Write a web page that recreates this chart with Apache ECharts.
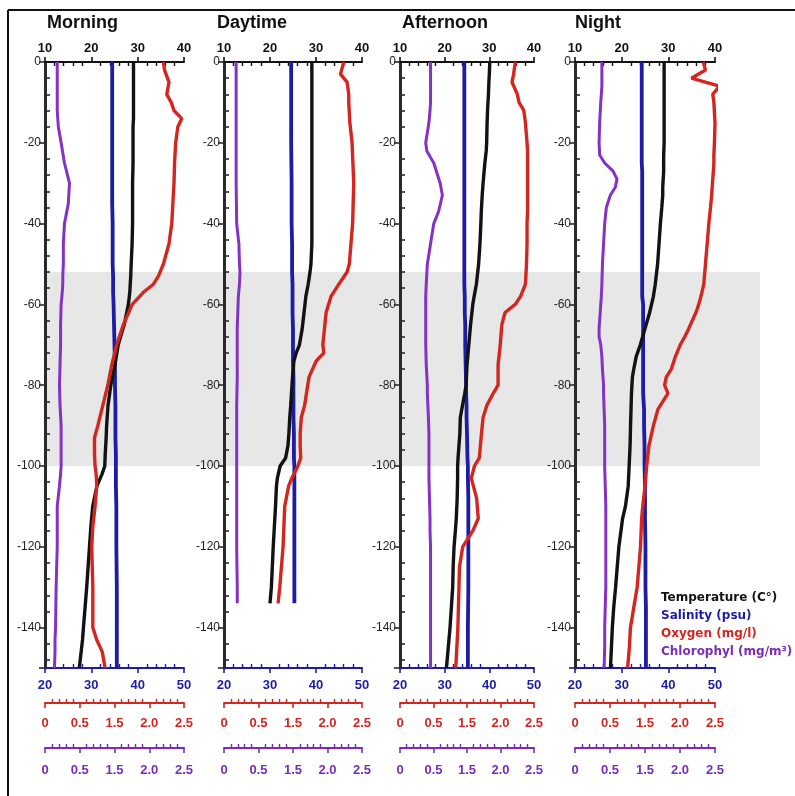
<!DOCTYPE html>
<html><head><meta charset="utf-8">
<script src="https://cdn.jsdelivr.net/npm/echarts/dist/echarts.min.js"></script>
<style>html,body{margin:0;padding:0;background:#fff}#c{width:795px;height:796px}</style>
</head><body><div id="c"></div>
<script>
// ---------- data (depth in metres below surface; axis shows it negative) ----------
const depthTickLabels = ['0','-20','-40','-60','-80','-100','-120','-140'];
const tempTickLabels = ['10','20','30','40'];
const salTickLabels = ['20','30','40','50'];
const oxyTickLabels = ['0','0.5','1.5','2.0','2.5'];
const chlTickLabels = ['0','0.5','1.5','2.0','2.5'];
const thermoclineTop = 52, thermoclineBottom = 100;
const thermoclineLabel = 'Termocline';
const panelTitles = ['Morning','Daytime','Afternoon','Night'];
const seriesNames = ['Temperature (C°)','Salinity (psu)','Oxygen (mg/l)','Chlorophyl (mg/m³)'];

const morningDepth = [0,2,5,8,10,12,14,16,20,25,30,35,40,45,50,53,55,57,60,65,70,75,80,85,90,93,97,100,102,105,110,115,120,130,140,143,146,150];
const morningTemp = [29.1,29.1,29.1,29.1,29.1,29.1,29.1,29.0,29.0,29.0,28.9,28.9,28.9,28.8,28.6,28.5,28.4,28.3,28.0,27.1,25.8,25.1,24.2,23.6,23.3,23.2,23.0,22.9,22.3,21.2,20.3,19.9,19.6,19.0,18.3,18.1,17.8,17.4];
const morningSal = [34.5,34.5,34.5,34.5,34.5,34.5,34.5,34.5,34.5,34.5,34.5,34.5,34.6,34.6,34.6,34.7,34.7,34.7,34.8,34.9,35.0,35.1,35.1,35.2,35.2,35.2,35.3,35.3,35.3,35.3,35.4,35.4,35.4,35.5,35.5,35.5,35.5,35.5];
const morningOxy = [2.13,2.15,2.23,2.19,2.27,2.32,2.46,2.39,2.35,2.33,2.32,2.30,2.28,2.23,2.13,2.04,1.95,1.77,1.57,1.41,1.29,1.20,1.13,1.04,0.95,0.89,0.89,0.90,0.92,0.93,0.90,0.86,0.84,0.86,0.86,0.93,1.03,1.08];
const morningChl = [0.22,0.22,0.22,0.22,0.22,0.22,0.23,0.24,0.29,0.35,0.44,0.42,0.35,0.33,0.33,0.32,0.32,0.31,0.29,0.28,0.28,0.27,0.26,0.27,0.29,0.29,0.29,0.29,0.28,0.26,0.22,0.22,0.22,0.20,0.19,0.18,0.18,0.17];

const daytimeDepth = [0,3,5,8,10,15,20,30,40,45,50,52,55,58,62,66,70,72,74,78,85,88,92,95,98,100,103,105,110,120,130,134];
const daytimeTemp = [29.1,29.1,29.1,29.1,29.1,29.1,29.1,29.1,29.1,29.1,28.9,28.7,28.3,27.8,27.4,27.0,26.4,25.7,25.2,24.9,24.5,24.3,24.1,23.9,23.4,22.2,21.6,21.4,21.2,20.7,20.3,20.0];
const daytimeSal = [34.6,34.6,34.6,34.6,34.6,34.6,34.6,34.7,34.7,34.8,34.8,34.8,34.9,34.9,34.9,35.0,35.0,35.0,35.0,35.1,35.1,35.1,35.2,35.2,35.2,35.3,35.3,35.3,35.3,35.3,35.3,35.3];
const daytimeOxy = [2.17,2.11,2.23,2.26,2.26,2.28,2.32,2.35,2.33,2.30,2.27,2.23,2.08,1.94,1.85,1.82,1.79,1.81,1.67,1.54,1.46,1.40,1.38,1.38,1.39,1.34,1.23,1.17,1.10,1.07,1.01,0.98];
const daytimeChl = [0.22,0.22,0.22,0.22,0.22,0.22,0.22,0.22,0.23,0.27,0.28,0.29,0.28,0.26,0.25,0.24,0.24,0.24,0.24,0.24,0.23,0.23,0.23,0.23,0.23,0.23,0.23,0.23,0.23,0.23,0.24,0.24];

const afternoonDepth = [0,3,5,8,10,12,15,20,22,25,30,33,37,40,45,50,55,58,60,62,65,70,75,80,82,85,88,92,98,100,103,108,113,116,120,125,130,140,150];
const afternoonTemp = [30.1,30.0,29.9,29.8,29.7,29.6,29.5,29.4,29.3,29.0,28.6,28.4,28.2,28.1,27.9,27.6,27.1,26.6,26.3,26.1,25.8,25.4,25.0,24.8,24.5,24.0,23.5,23.4,23.0,22.9,22.9,22.8,22.6,22.4,22.1,21.9,21.8,21.2,20.4];
const afternoonSal = [34.4,34.4,34.4,34.4,34.4,34.4,34.4,34.4,34.4,34.4,34.4,34.4,34.4,34.4,34.4,34.4,34.4,34.5,34.5,34.5,34.6,34.6,34.7,34.8,34.8,34.9,34.9,35.0,35.1,35.2,35.2,35.3,35.3,35.3,35.3,35.3,35.3,35.2,35.2];
const afternoonOxy = [2.15,2.12,2.09,2.19,2.22,2.31,2.34,2.37,2.38,2.38,2.38,2.38,2.38,2.37,2.37,2.36,2.34,2.25,2.15,1.96,1.90,1.87,1.83,1.83,1.74,1.62,1.55,1.52,1.48,1.39,1.33,1.43,1.46,1.36,1.17,1.11,1.10,1.08,1.04];
const afternoonChl = [0.57,0.57,0.57,0.57,0.57,0.56,0.54,0.48,0.50,0.63,0.75,0.79,0.72,0.63,0.57,0.51,0.49,0.48,0.48,0.48,0.48,0.48,0.49,0.51,0.51,0.52,0.53,0.54,0.54,0.54,0.54,0.55,0.56,0.56,0.57,0.57,0.57,0.57,0.57];

const nightDepth = [0,2,4,6,8,10,15,20,23,25,27,29,31,33,36,40,45,50,55,58,60,62,66,68,70,73,76,78,80,82,86,90,95,100,105,110,113,120,130,135,140,145,150];
const nightTemp = [29.1,29.1,29.1,29.1,29.1,29.1,29.1,29.1,29.0,29.0,29.0,28.9,28.8,28.8,28.6,28.3,28.0,27.7,27.2,26.8,26.4,26.0,25.0,24.5,24.0,23.1,22.6,22.3,22.2,22.1,22.0,21.9,21.8,21.6,21.4,20.8,20.2,19.4,18.7,18.3,18.0,17.8,17.6];
const nightSal = [34.3,34.3,34.3,34.3,34.3,34.3,34.3,34.3,34.3,34.3,34.4,34.4,34.4,34.4,34.4,34.4,34.4,34.4,34.4,34.4,34.6,34.6,34.6,34.6,34.6,34.6,34.6,34.6,34.6,34.6,34.8,34.8,34.9,34.9,35.0,35.0,35.0,35.1,35.1,35.2,35.2,35.2,35.2];
const nightOxy = [2.29,2.33,2.08,2.58,2.46,2.48,2.50,2.49,2.48,2.48,2.47,2.46,2.45,2.44,2.42,2.39,2.36,2.33,2.30,2.25,2.21,2.16,2.03,1.96,1.88,1.79,1.72,1.63,1.60,1.66,1.48,1.40,1.32,1.28,1.25,1.21,1.19,1.17,1.11,1.05,0.99,0.97,0.94];
const nightChl = [0.48,0.48,0.48,0.48,0.47,0.46,0.44,0.43,0.44,0.53,0.68,0.75,0.72,0.63,0.56,0.53,0.51,0.49,0.48,0.47,0.46,0.45,0.43,0.43,0.46,0.48,0.49,0.50,0.51,0.51,0.52,0.53,0.53,0.53,0.54,0.55,0.55,0.55,0.55,0.54,0.53,0.53,0.52];

// ---------- layout / style ----------
const FONT = '"Liberation Sans", Arial, sans-serif';
const COL = {temp:'#121212', sal:'#1c1ca6', oxy:'#d4261f', chl:'#8431c6', chlAxis:'#7a2cb8', yaxis:'#2a2a2a'};
const panels = [
  {left:45,  width:139, titleX:47,  depth:morningDepth,   temp:morningTemp,   sal:morningSal,   oxy:morningOxy,   chl:morningChl},
  {left:224, width:138, titleX:217, depth:daytimeDepth,   temp:daytimeTemp,   sal:daytimeSal,   oxy:daytimeOxy,   chl:daytimeChl},
  {left:400, width:134, titleX:402, depth:afternoonDepth, temp:afternoonTemp, sal:afternoonSal, oxy:afternoonOxy, chl:afternoonChl},
  {left:575, width:140, titleX:575, depth:nightDepth,     temp:nightTemp,     sal:nightSal,     oxy:nightOxy,     chl:nightChl}
];
const TOP = 62, BOTTOM = 128;

function labelFrom(arr, step, min){
  return function(v){ const k = Math.round((v-min)/step); return (Math.abs((v-min)/step - k) < 1e-6 && arr[k] !== undefined) ? arr[k] : ''; };
}
function xAxisDef(g, pos, offset, min, max, interval, color, labels, margin, size, bold){
  return {
    gridIndex:g, type:'value', position:pos, offset:offset, min:min, max:max, interval:interval, z:4,
    axisLine:{show:true, onZero:false, lineStyle:{color:color, width:2}},
    axisTick:{show:true, length:5, lineStyle:{color:color, width:1.6}},
    minorTick:{show:true, splitNumber:5, length:-4, lineStyle:{color:color, width:1.4}},
    splitLine:{show:false}, minorSplitLine:{show:false},
    axisLabel:{color:color, fontSize:size, fontWeight:bold?'bold':'normal', fontFamily:FONT, margin:margin,
      showMinLabel:true, showMaxLabel:true, hideOverlap:false, formatter:labelFrom(labels, interval, min)}
  };
}

const grid = [{left:46, right:35, top:TOP, bottom:BOTTOM}];
const xAxis = [{gridIndex:0, type:'value', min:0, max:1, show:false}];
const yAxis = [{gridIndex:0, type:'value', min:0, max:150, inverse:true, show:false}];
const series = [{
  type:'line', xAxisIndex:0, yAxisIndex:0, data:[[0,0]], symbol:'none', silent:true, z:0,
  lineStyle:{opacity:0},
  markArea:{silent:true, itemStyle:{color:'#e7e7e7'}, label:{show:false},
    data:[[{yAxis:thermoclineTop},{yAxis:thermoclineBottom}]]}
}];

panels.forEach(function(p, i){
  const g = i + 1;
  grid.push({left:p.left, width:p.width, top:TOP, bottom:BOTTOM});
  const base = xAxis.length;
  xAxis.push(xAxisDef(g,'top',0,10,40,10,COL.temp,tempTickLabels,7,13,true));
  xAxis.push(xAxisDef(g,'bottom',0,20,50,10,COL.sal,salTickLabels,11,13,true));
  xAxis.push(xAxisDef(g,'bottom',35,0,2.5,0.625,COL.oxy,oxyTickLabels,14,13,true));
  xAxis.push(xAxisDef(g,'bottom',80,0,2.5,0.625,COL.chlAxis,chlTickLabels,16,13,true));
  yAxis.push({
    gridIndex:g, type:'value', min:0, max:150, interval:20, inverse:true, z:4,
    axisLine:{show:true, onZero:false, lineStyle:{color:COL.yaxis, width:3}},
    axisTick:{show:true, length:6, lineStyle:{color:COL.yaxis, width:1.6}},
    minorTick:{show:true, splitNumber:5, length:-5, lineStyle:{color:COL.yaxis, width:1.6}},
    splitLine:{show:false}, minorSplitLine:{show:false},
    axisLabel:{color:'#222', fontSize:12, fontFamily:FONT, margin:4, showMaxLabel:false,
      formatter:labelFrom(depthTickLabels, 20, 0)}
  });
  const yi = g;
  function line(name, xi, vals, color, w){
    return {name:name, type:'line', xAxisIndex:xi, yAxisIndex:yi, symbol:'none', clip:false, z:5,
      data:vals.map(function(v,k){ return [v, p.depth[k]]; }),
      lineStyle:{color:color, width:w}, itemStyle:{color:color}, emphasis:{disabled:true}, animation:false};
  }
  series.push(line(seriesNames[3], base+3, p.chl, COL.chl, 3));
  series.push(line(seriesNames[1], base+1, p.sal, COL.sal, 3.8));
  series.push(line(seriesNames[0], base+0, p.temp, COL.temp, 3.4));
  series.push(line(seriesNames[2], base+2, p.oxy, COL.oxy, 3.4));
});

const chart = echarts.init(document.getElementById('c'), null, {renderer:'canvas'});
chart.setOption({
  animation:false,
  backgroundColor:'#ffffff',
  title: panelTitles.map(function(t,i){ return {text:t, left:panels[i].titleX, top:14, padding:0,
    textStyle:{fontSize:18, fontWeight:'bold', color:'#111', fontFamily:FONT}}; }),
  legend:{orient:'vertical', left:651, top:586, itemGap:4, itemWidth:0, itemHeight:14, icon:'rect', selectedMode:false,
    textStyle:{fontSize:12, fontWeight:'bold', fontFamily:'"DejaVu Sans", sans-serif'},
    data:[
      {name:seriesNames[0], textStyle:{color:COL.temp}},
      {name:seriesNames[1], textStyle:{color:COL.sal}},
      {name:seriesNames[2], textStyle:{color:COL.oxy}},
      {name:seriesNames[3], textStyle:{color:COL.chlAxis}}
    ]},
  grid:grid, xAxis:xAxis, yAxis:yAxis, series:series,
  graphic:[
    {type:'line', silent:true, shape:{x1:8,y1:10,x2:795,y2:10}, style:{stroke:'#111', lineWidth:2}},
    {type:'line', silent:true, shape:{x1:8,y1:10,x2:8,y2:796}, style:{stroke:'#111', lineWidth:2}},
    {type:'text', silent:true, x:736, y:372, rotation:Math.PI/2,
      style:{text:thermoclineLabel, font:'bold 21px "Liberation Sans", Arial, sans-serif', fill:'#111',
        align:'center', verticalAlign:'middle', textAlign:'center', textVerticalAlign:'middle'}}
  ]
});
</script>
</body></html>
